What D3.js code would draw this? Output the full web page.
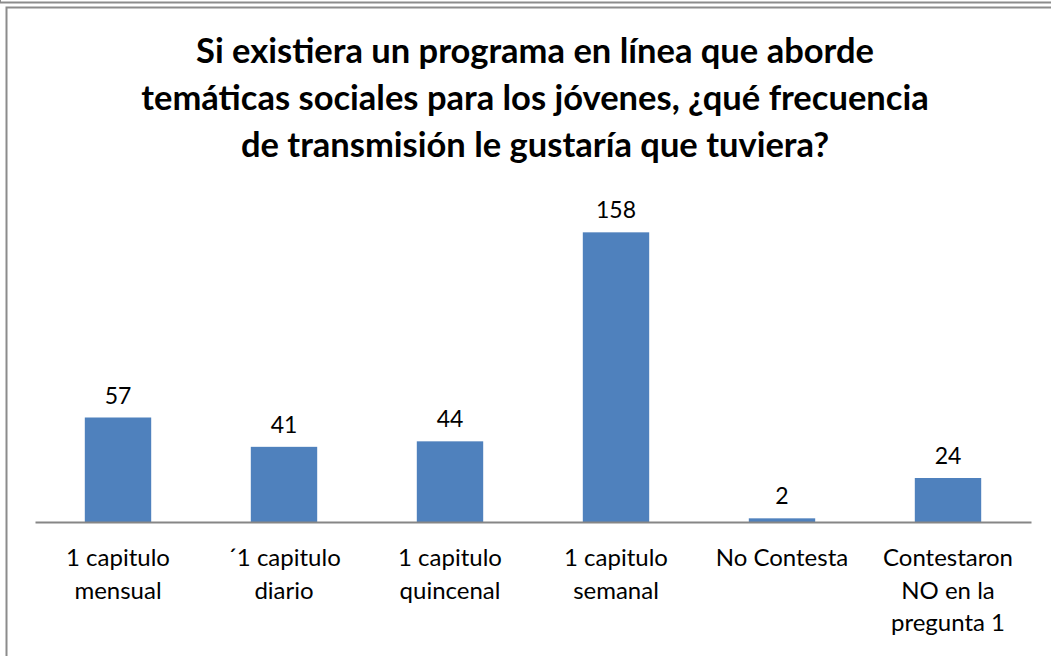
<!DOCTYPE html>
<html>
<head>
<meta charset="utf-8">
<script src="https://cdn.jsdelivr.net/npm/d3@7"></script>
<style>
  body { margin: 0; background: #fff; }
  svg text { font-family: Lato, "Open Sans", sans-serif; fill: #000; }
</style>
</head>
<body>
<script>
// chart data
var categories = [
  ["1 capitulo", "mensual"],
  ["\u00B41 capitulo", "diario"],
  ["1 capitulo", "quincenal"],
  ["1 capitulo", "semanal"],
  ["No Contesta"],
  ["Contestaron", "NO en la", "pregunta 1"]
];
var values = [57, 41, 44, 158, 2, 24];
var titleLines = [
  "Si existiera un programa en l\u00EDnea que aborde",
  "tem\u00E1ticas sociales para los j\u00F3venes, \u00BFqu\u00E9 frecuencia",
  "de transmisi\u00F3n le gustar\u00EDa que tuviera?"
];

var W = 1051, H = 656;
var margin = { top: 192, left: 35, right: 20, bottom: 134 };

var svg = d3.select("body").append("svg")
    .attr("width", W)
    .attr("height", H);

// outer frame lines
svg.append("line")
    .attr("x1", 0).attr("x2", W).attr("y1", 2.5).attr("y2", 2.5)
    .attr("stroke", "#8c8c8c").attr("stroke-width", 2);
svg.append("line")
    .attr("x1", 0.5).attr("x2", 0.5).attr("y1", 0).attr("y2", 3)
    .attr("stroke", "#8c8c8c").attr("stroke-width", 1);
svg.append("path")
    .attr("d", "M" + W + ",7.5H6.5V" + H)
    .attr("fill", "none")
    .attr("stroke", "#8c8c8c").attr("stroke-width", 2);

// title
svg.append("text")
    .attr("x", 535)
    .attr("y", 63)
    .attr("text-anchor", "middle")
    .style("font-size", "34.5px")
    .style("font-weight", "bold")
  .selectAll("tspan")
  .data(titleLines)
  .enter().append("tspan")
    .attr("x", 535)
    .attr("dy", function (d, i) { return i === 0 ? 0 : 47; })
    .text(function (d) { return d; });

var g = svg.append("g")
    .attr("transform", "translate(" + margin.left + "," + margin.top + ")");

var x = d3.scaleBand()
    .domain(d3.range(values.length))
    .range([0, 996])
    .paddingInner(0.6)
    .paddingOuter(0.3);

var y = d3.scaleLinear()
    .domain([0, 180])
    .range([330, 0]);

g.selectAll(".bar")
    .data(values)
  .enter().append("rect")
    .attr("class", "bar")
    .attr("x", function (d, i) { return x(i); })
    .attr("y", function (d) { return y(d); })
    .attr("width", x.bandwidth())
    .attr("height", function (d) { return y(0) - y(d); })
    .attr("fill", "#4f81bd");

g.selectAll(".val")
    .data(values)
  .enter().append("text")
    .attr("class", "val")
    .attr("x", function (d, i) { return x(i) + x.bandwidth() / 2; })
    .attr("y", function (d) { return y(d) - 14; })
    .attr("text-anchor", "middle")
    .style("font-size", "23px")
    .text(function (d) { return d; });

// x axis
var xAxis = d3.axisBottom(x).tickSize(0).tickFormat("");
var ax = g.append("g")
    .attr("transform", "translate(0," + y(0) + ")")
    .call(xAxis);
ax.select(".domain").attr("stroke", "#868686").attr("stroke-width", 2);

var labels = g.selectAll(".cat")
    .data(categories)
  .enter().append("text")
    .attr("class", "cat")
    .attr("text-anchor", "middle")
    .attr("y", y(0) + 44)
    .style("font-size", "24px");

labels.selectAll("tspan")
    .data(function (d, i) { return d.map(function (s) { return { s: s, i: i }; }); })
  .enter().append("tspan")
    .attr("x", function (d) { return x(d.i) + x.bandwidth() / 2; })
    .attr("dy", function (d, j) { return j === 0 ? 0 : 32.5; })
    .text(function (d) { return d.s; });
</script>
</body>
</html>
